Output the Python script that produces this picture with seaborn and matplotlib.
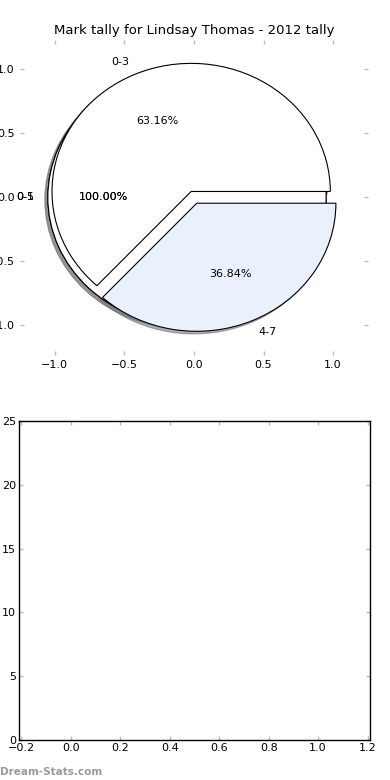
import matplotlib
matplotlib.use("Agg")
import matplotlib.pyplot as plt
import seaborn as sns

# pie data
labels = ["0-3", "4-7"]
counts = [12, 7]
full_labels = ["0-1", "0-5"]
full_counts = [19, 19]
slice_colors = ["white", "#eaf0fc"]

# empty lower panel
x_ticks = [-0.2, 0.0, 0.2, 0.4, 0.6, 0.8, 1.0, 1.2]
y_ticks = [0, 5, 10, 15, 20, 25]

title = "Mark tally for Lindsay Thomas - 2012 tally"

sns.set_theme(style="white")
plt.rcParams['font.family'] = ['DejaVu Sans']
plt.rcParams['font.size'] = 8
plt.rcParams['text.color'] = 'black'
plt.rcParams['xtick.labelcolor'] = 'black'
plt.rcParams['ytick.labelcolor'] = 'black'

fig = plt.figure(figsize=(3.9, 7.8), dpi=100)
ax1 = fig.add_axes([0.0513, 0.545, 0.892, 0.404])
ax2 = fig.add_axes([0.0487, 0.0513, 0.9, 0.409])

wp = dict(edgecolor="black", linewidth=0.8)
sh = dict(ox=-0.015, oy=-0.015, shade=0.5, alpha=0.6)
for lab, c in zip(full_labels, full_counts):
    ax1.pie([c], labels=[lab], explode=[0.05], autopct="%.2f%%", startangle=0,
            shadow=sh, colors=["white"], wedgeprops=wp, frame=True,
            textprops=dict(fontsize=8, color="black"))
ax1.pie(counts, labels=labels, explode=[0.05, 0.05], autopct="%.2f%%", startangle=0,
        shadow=sh, colors=slice_colors, wedgeprops=wp, frame=True,
        textprops=dict(fontsize=8, color="black"))
ax1.set_aspect("auto")
ax1.set_xlim(-1.25, 1.25)
ax1.set_ylim(-1.23, 1.23)
ax1.set_xticks([-1.0, -0.5, 0.0, 0.5, 1.0])
ax1.set_yticks([-1.0, -0.5, 0.0, 0.5, 1.0])
for s in ax1.spines.values():
    s.set_visible(False)
ax1.tick_params(direction="in", length=3, width=1, color="#bbbbbb", labelsize=8,
                labelcolor="black", top=True, right=True, bottom=True, left=True, pad=4)
ax1.set_title(title, fontsize=9.5, pad=4, color="black")

ax2.set_xlim(-0.21, 1.21)
ax2.set_ylim(0, 25)
ax2.set_xticks(x_ticks)
ax2.set_yticks(y_ticks)
for s in ax2.spines.values():
    s.set_visible(True)
    s.set_color("black")
    s.set_linewidth(1)
ax2.tick_params(direction="in", length=3, width=1, color="#bbbbbb", labelsize=8,
                labelcolor="black", top=True, right=True, bottom=True, left=True, pad=2)

fig.text(0.0, 0.004, "Dream-Stats.com", fontsize=7.5, color="#999999",
         fontweight="bold", ha="left", va="bottom")

fig.savefig("out.png", dpi=100)
